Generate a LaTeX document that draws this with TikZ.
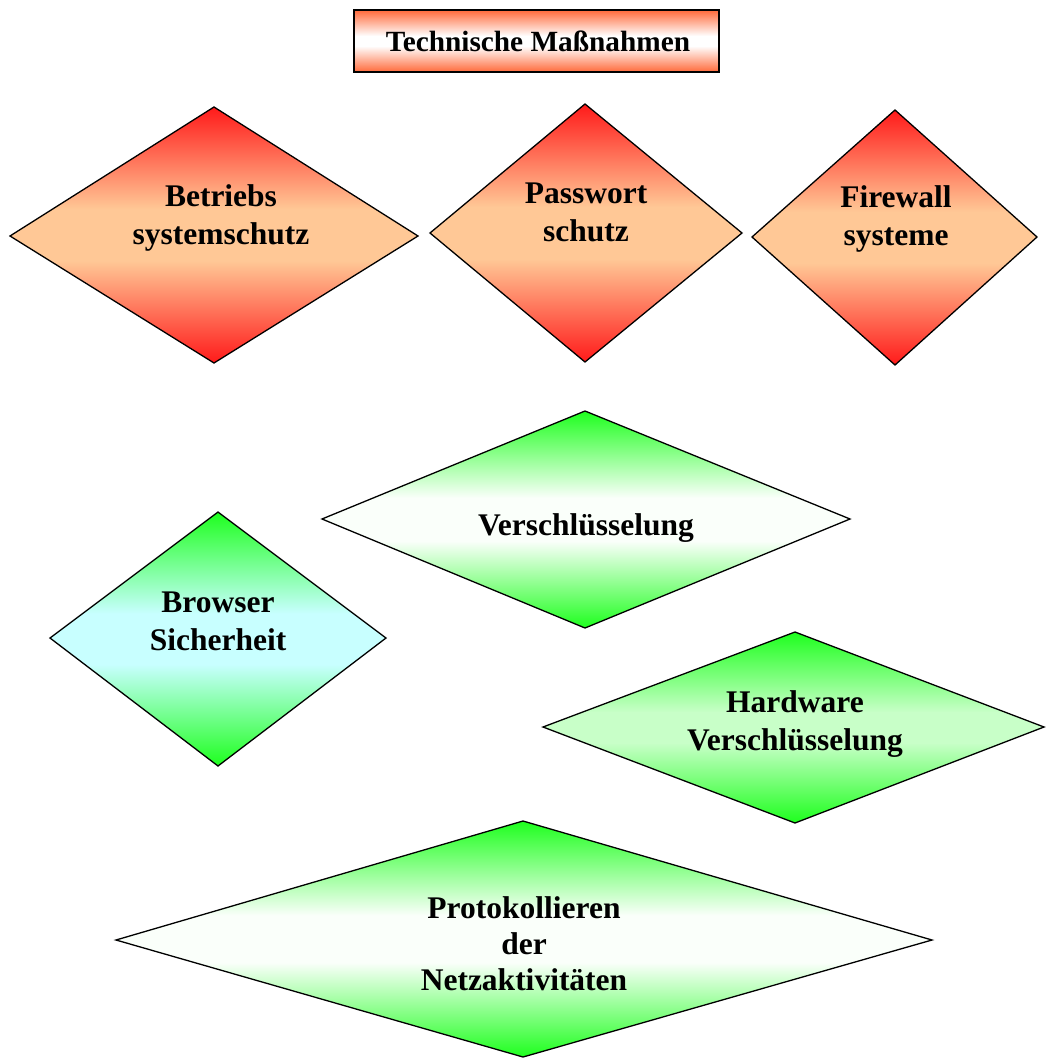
\documentclass[tikz,border=0pt]{standalone}
\usepackage{fontspec}
\setmainfont{Liberation Serif}
\definecolor{rdEdge}{HTML}{FF1A1A}
\definecolor{rdMid}{HTML}{FFC896}
\definecolor{grEdge}{HTML}{1EFF1E}
\definecolor{cyMid}{HTML}{C8FFFF}
\definecolor{paleMid}{HTML}{FAFFFA}
\definecolor{ltMid}{HTML}{C8FFC8}
\definecolor{ttEdge}{HTML}{FF6A3A}
% symmetric vertical shadings: edge colour at both tips, flat band in the middle
\pgfdeclareverticalshading{redband}{100bp}{color(0bp)=(rdEdge); color(25bp)=(rdEdge); color(45bp)=(rdMid); color(55bp)=(rdMid); color(75bp)=(rdEdge); color(100bp)=(rdEdge)}
\pgfdeclareverticalshading{cyanband}{100bp}{color(0bp)=(grEdge); color(25bp)=(grEdge); color(45bp)=(cyMid); color(55bp)=(cyMid); color(75bp)=(grEdge); color(100bp)=(grEdge)}
\pgfdeclareverticalshading{paleband}{100bp}{color(0bp)=(grEdge); color(25bp)=(grEdge); color(45bp)=(paleMid); color(55bp)=(paleMid); color(75bp)=(grEdge); color(100bp)=(grEdge)}
\pgfdeclareverticalshading{lightband}{100bp}{color(0bp)=(grEdge); color(25bp)=(grEdge); color(46bp)=(ltMid); color(54bp)=(ltMid); color(75bp)=(grEdge); color(100bp)=(grEdge)}
\pgfdeclareverticalshading{titleband}{100bp}{color(0bp)=(ttEdge); color(25bp)=(ttEdge); color(46bp)=(white); color(54bp)=(white); color(75bp)=(ttEdge); color(100bp)=(ttEdge)}
\begin{document}
\begin{tikzpicture}[x=1pt,y=1pt,
  outline/.style={draw=black,line width=1.3pt,line join=miter},
  redfill/.style={outline,shade,shading=redband},
  cyanfill/.style={outline,shade,shading=cyanband},
  palefill/.style={outline,shade,shading=paleband},
  lightfill/.style={outline,shade,shading=lightband},
  label/.style={font=\bfseries\fontsize{31.5}{38}\selectfont,align=center,inner sep=0pt},
  titlefill/.style={draw=black,line width=1.2pt,shade,shading=titleband}
]
\useasboundingbox (0,0) rectangle (1045,-1059);

% title box
\path[titlefill] (354,-10) rectangle (719,-72);
\node[font=\bfseries\fontsize{29.3}{34}\selectfont,inner sep=0pt] (title) at (538,-41) {Technische Maßnahmen};

% upper row (red)
\path[redfill] (10,-236) -- (214,-107) -- (418,-236) -- (214,-363) -- cycle;
\node[label] (betrieb) at (221,-218) {Betriebs\\systemschutz};

\path[redfill] (430,-233) -- (585,-104) -- (742,-233) -- (585,-362) -- cycle;
\node[label] (passwort) at (586,-212) {Passwort\\schutz};

\path[redfill] (752,-237) -- (895,-110) -- (1037,-237) -- (895,-365) -- cycle;
\node[label] (firewall) at (896,-219) {Firewall\\systeme};

% lower group (green)
\path[palefill] (322,-519) -- (585,-411) -- (850,-519) -- (585,-628) -- cycle;
\node[label] (verschl) at (586,-528) {Verschlüsselung};

\path[cyanfill] (50,-638) -- (218,-512) -- (386,-638) -- (218,-766) -- cycle;
\node[label] (browser) at (218,-621) {Browser\\Sicherheit};

\path[lightfill] (543,-727) -- (795,-632) -- (1044,-727) -- (795,-823) -- cycle;
\node[label] (hardware) at (795,-724) {Hardware\\Verschlüsselung};

\path[palefill] (116,-940) -- (523,-821) -- (932,-940) -- (523,-1057) -- cycle;
\node[label,font=\bfseries\fontsize{31.5}{36}\selectfont] (protokoll) at (524,-944) {Protokollieren\\der\\Netzaktivitäten};
\end{tikzpicture}
\end{document}
